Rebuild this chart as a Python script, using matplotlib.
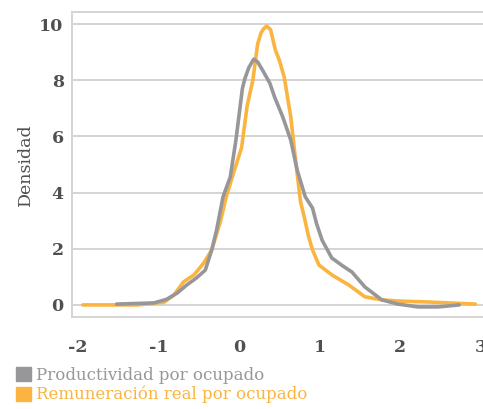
import matplotlib
matplotlib.use("Agg")
import matplotlib.pyplot as plt
from matplotlib.patches import Patch

plt.rcParams["axes.unicode_minus"] = False

# densidad (kernel) por variable
prod_x = [-1.52, -1.06, -0.9, -0.77, -0.65, -0.53, -0.42, -0.34, -0.28, -0.2, -0.11, -0.04,
          0.04, 0.07, 0.12, 0.18, 0.23, 0.29, 0.38, 0.44, 0.54, 0.64, 0.72, 0.82, 0.91, 0.96,
          1.03, 1.15, 1.28, 1.4, 1.56, 1.77, 1.97, 2.22, 2.47, 2.73]
prod_y = [0.03, 0.07, 0.2, 0.42, 0.71, 0.96, 1.24, 1.96, 2.67, 3.85, 4.56, 5.87,
          7.7, 8.05, 8.45, 8.75, 8.65, 8.36, 7.9, 7.4, 6.7, 5.87, 4.8, 3.85, 3.45, 2.9,
          2.3, 1.67, 1.4, 1.17, 0.64, 0.18, 0.03, -0.07, -0.07, 0.0]

rem_x = [-1.94, -1.26, -0.93, -0.81, -0.69, -0.56, -0.44, -0.34, -0.23, -0.16, -0.07, 0.03,
         0.1, 0.17, 0.23, 0.27, 0.3, 0.34, 0.39, 0.45, 0.5, 0.56, 0.64, 0.7, 0.76, 0.81,
         0.86, 0.91, 0.99, 1.15, 1.36, 1.56, 1.77, 1.97, 2.38, 2.93]
rem_y = [0.0, 0.0, 0.1, 0.35, 0.82, 1.07, 1.49, 1.96, 3.0, 3.85, 4.7, 5.6,
         7.1, 8.0, 9.3, 9.67, 9.82, 9.93, 9.8, 9.07, 8.7, 8.1, 6.7, 5.16, 3.7, 3.1,
         2.45, 1.96, 1.42, 1.07, 0.71, 0.29, 0.18, 0.14, 0.1, 0.03]

labels = ["Productividad por ocupado", "Remuneración real por ocupado"]
gray = "#97979a"
orange = "#fbb440"
grid_c = "#d4d4d4"
text_c = "#505050"

W, H = 483, 409
fig = plt.figure(figsize=(W / 100, H / 100), dpi=100)
# right edge of the frame runs past the figure, as in the original
ax = fig.add_axes([72 / W, 1 - 317 / H, (489 - 72) / W, (317 - 12) / H])

ax.plot(prod_x, prod_y, color=gray, lw=2.6, solid_capstyle="round", solid_joinstyle="round", zorder=3)
ax.plot(rem_x, rem_y, color=orange, lw=2.6, solid_capstyle="round", solid_joinstyle="round", zorder=2)

ax.set_xlim(-2.074, 3.1)
ax.set_ylim(-0.43, 10.43)
ax.set_xticks([-2, -1, 0, 1, 2, 3])
ax.set_yticks([0, 2, 4, 6, 8, 10])
ax.grid(axis="y", color=grid_c, lw=1.4)
ax.set_axisbelow(True)
for s in ax.spines.values():
    s.set_color(grid_c)
    s.set_linewidth(1.4)
ax.tick_params(length=0, labelcolor=text_c, labelsize=12.5)
ax.tick_params(axis="y", pad=6)
ax.tick_params(axis="x", pad=16)
for lab in ax.get_xticklabels() + ax.get_yticklabels():
    lab.set_fontfamily("DejaVu Serif")
    lab.set_fontweight("bold")
ax.set_ylabel("Densidad", family="DejaVu Serif", fontsize=12.5, color=text_c, labelpad=4)

handles = [Patch(color=gray), Patch(color=orange)]
leg = fig.legend(handles, labels, loc="lower left", bbox_to_anchor=(9 / W, -1 / H),
                 frameon=False, handlelength=0.9, handleheight=0.9, handletextpad=0.3,
                 labelspacing=0.12, borderaxespad=0,
                 prop={"family": "DejaVu Serif", "size": 12})
for t, c in zip(leg.get_texts(), [gray, orange]):
    t.set_color(c)

fig.savefig("out.png", dpi=100)
